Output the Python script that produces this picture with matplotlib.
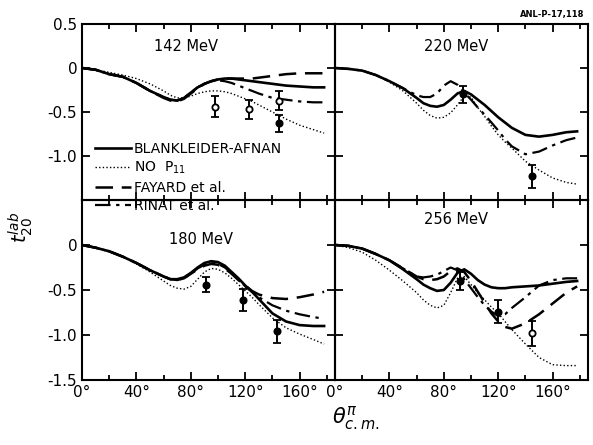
# t20 lab vs theta c.m. - four panels (142, 180, 220, 256 MeV).

import matplotlib
matplotlib.use('Agg')
import matplotlib.pyplot as plt
from matplotlib.ticker import MultipleLocator

ang = [0, 10, 20, 30, 40, 50, 60, 65, 70, 75, 80, 85, 90, 95, 100, 105, 110, 115,
       120, 125, 130, 140, 150, 160, 170, 178]

# 142 MeV
ba_142 = [0, -0.02, -0.07, -0.10, -0.17, -0.26, -0.33, -0.36, -0.37, -0.34, -0.28, -0.22, -0.18,
          -0.15, -0.13, -0.12, -0.12, -0.13, -0.14, -0.15, -0.16, -0.18, -0.20, -0.21, -0.22, -0.22]
nop_142 = [0, -0.02, -0.05, -0.08, -0.12, -0.18, -0.26, -0.31, -0.34, -0.34, -0.32, -0.29, -0.27,
           -0.26, -0.26, -0.27, -0.29, -0.32, -0.35, -0.38, -0.42, -0.50, -0.58, -0.65, -0.70, -0.74]
fay_142 = [0, -0.02, -0.07, -0.10, -0.17, -0.26, -0.34, -0.37, -0.38, -0.35, -0.29, -0.23, -0.18,
           -0.15, -0.13, -0.12, -0.12, -0.12, -0.12, -0.12, -0.11, -0.09, -0.07, -0.06, -0.06, -0.06]
rin_142 = [0, -0.02, -0.07, -0.10, -0.17, -0.26, -0.33, -0.36, -0.37, -0.34, -0.28, -0.22, -0.18,
           -0.15, -0.14, -0.15, -0.17, -0.20, -0.23, -0.26, -0.29, -0.34, -0.36, -0.38, -0.39, -0.39]

# 220 MeV
ba_220 = [0, -0.01, -0.03, -0.08, -0.15, -0.23, -0.34, -0.40, -0.43, -0.44, -0.42, -0.36, -0.29,
          -0.26, -0.30, -0.36, -0.42, -0.49, -0.56, -0.62, -0.68, -0.76, -0.78, -0.76, -0.73, -0.72]
nop_220 = [0, -0.01, -0.03, -0.08, -0.16, -0.26, -0.40, -0.48, -0.54, -0.57, -0.56, -0.51, -0.42,
           -0.32, -0.33, -0.45, -0.55, -0.66, -0.76, -0.84, -0.91, -1.06, -1.16, -1.25, -1.30, -1.32]
rin_220 = [0, -0.01, -0.03, -0.08, -0.15, -0.23, -0.31, -0.33, -0.33, -0.29, -0.20, -0.15, -0.19,
           -0.28, -0.36, -0.45, -0.53, -0.62, -0.71, -0.81, -0.89, -0.98, -0.95, -0.88, -0.82, -0.79]

# 180 MeV
ba_180 = [0, -0.03, -0.07, -0.13, -0.20, -0.28, -0.35, -0.38, -0.38, -0.36, -0.31, -0.25, -0.20,
          -0.18, -0.19, -0.23, -0.30, -0.37, -0.45, -0.52, -0.60, -0.76, -0.85, -0.89, -0.90, -0.90]
nop_180 = [0, -0.03, -0.07, -0.13, -0.21, -0.30, -0.40, -0.45, -0.48, -0.49, -0.46, -0.38, -0.30,
           -0.26, -0.27, -0.31, -0.37, -0.44, -0.51, -0.58, -0.66, -0.81, -0.92, -0.99, -1.05, -1.10]
fay_180 = [0, -0.03, -0.07, -0.13, -0.20, -0.28, -0.35, -0.38, -0.39, -0.37, -0.32, -0.27, -0.23,
           -0.21, -0.22, -0.26, -0.32, -0.39, -0.45, -0.51, -0.55, -0.59, -0.60, -0.58, -0.55, -0.52]
rin_180 = [0, -0.03, -0.07, -0.13, -0.20, -0.28, -0.35, -0.38, -0.39, -0.37, -0.32, -0.26, -0.22,
           -0.20, -0.21, -0.25, -0.31, -0.38, -0.46, -0.52, -0.58, -0.67, -0.73, -0.77, -0.80, -0.82]

# 256 MeV
ba_256 = [0, -0.01, -0.04, -0.10, -0.17, -0.27, -0.38, -0.44, -0.48, -0.51, -0.50, -0.42, -0.31,
          -0.27, -0.32, -0.39, -0.44, -0.47, -0.48, -0.48, -0.47, -0.46, -0.45, -0.43, -0.41, -0.40]
nop_256 = [0, -0.03, -0.08, -0.17, -0.28, -0.40, -0.53, -0.61, -0.67, -0.70, -0.67, -0.53, -0.37,
           -0.35, -0.44, -0.53, -0.61, -0.69, -0.76, -0.85, -0.94, -1.10, -1.25, -1.33, -1.34, -1.34]
fay_256 = [0, -0.01, -0.04, -0.10, -0.17, -0.26, -0.35, -0.38, -0.39, -0.38, -0.35, -0.29, -0.26,
           -0.30, -0.40, -0.52, -0.64, -0.76, -0.85, -0.91, -0.93, -0.87, -0.77, -0.65, -0.53, -0.46]
rin_256 = [0, -0.01, -0.04, -0.10, -0.17, -0.26, -0.35, -0.36, -0.35, -0.33, -0.29, -0.25, -0.28,
           -0.38, -0.48, -0.58, -0.67, -0.74, -0.79, -0.77, -0.70, -0.58, -0.45, -0.39, -0.37, -0.37]

# Measured points: angle, value, error, open symbol or not.
pts_142_x = [98, 122.6, 144.6, 144.6]
pts_142_y = [-0.44, -0.47, -0.37, -0.63]
pts_142_err = [0.12, 0.11, 0.11, 0.10]
pts_142_open = [True, True, True, False]

pts_220_x = [94, 145]
pts_220_y = [-0.30, -1.23]
pts_220_err = [0.10, 0.13]
pts_220_open = [False, False]

pts_180_x = [91, 118, 143]
pts_180_y = [-0.44, -0.61, -0.96]
pts_180_err = [0.08, 0.12, 0.13]
pts_180_open = [False, False, False]

pts_256_x = [92, 120, 145]
pts_256_y = [-0.40, -0.74, -0.98]
pts_256_err = [0.10, 0.13, 0.14]
pts_256_open = [False, False, True]

legend_labels = ['BLANKLEIDER-AFNAN', 'NO  P$_{11}$', 'FAYARD et al.', 'RINAT et al.']
x_ticks = [0, 40, 80, 120, 160]
x_tick_labels = ['0°', '40°', '80°', '120°', '160°']

# Figure, 593 x 445 pixels.
fig = plt.figure(figsize=(5.93, 4.45), dpi=100)

W, H = 593.0, 445.0
def axes_px(x0, y0, w, h):
    return fig.add_axes([x0 / W, 1 - (y0 + h) / H, w / W, h / H])

ax_142 = axes_px(82, 24, 253, 176)
ax_220 = axes_px(335, 24, 253, 176)
ax_180 = axes_px(82, 200, 253, 180)
ax_256 = axes_px(335, 200, 253, 180)

# Upper left panel on top so its legend can run over the boundary.
ax_142.set_zorder(5)
for ax in (ax_142, ax_220, ax_180, ax_256):
    ax.patch.set_visible(False)

solid = dict(color='black', lw=1.9, ls='-')
dotted = dict(color='black', lw=1.0, ls=(0, (1, 1.6)))
dashed = dict(color='black', lw=1.8, ls=(0, (7, 3.5)))
dashdot = dict(color='black', lw=1.6, ls=(0, (7, 2.5, 1.5, 2.5)))

def draw_points(ax, xs, ys, errs, opens):
    for x, y, e, o in zip(xs, ys, errs, opens):
        ax.errorbar(x, y, yerr=e, fmt='o', color='black', ms=4.5, capsize=3,
                    elinewidth=1.4, capthick=1.4,
                    mfc='white' if o else 'black', mew=1.3)

panels = [
    (ax_142, ba_142, nop_142, fay_142, rin_142, pts_142_x, pts_142_y, pts_142_err, pts_142_open, '142 MeV', 0.41, 0.87),
    (ax_220, ba_220, nop_220, None, rin_220, pts_220_x, pts_220_y, pts_220_err, pts_220_open, '220 MeV', 0.48, 0.87),
    (ax_180, ba_180, nop_180, fay_180, rin_180, pts_180_x, pts_180_y, pts_180_err, pts_180_open, '180 MeV', 0.47, 0.78),
    (ax_256, ba_256, nop_256, fay_256, rin_256, pts_256_x, pts_256_y, pts_256_err, pts_256_open, '256 MeV', 0.48, 0.89),
]

for ax, ba, nop, fay, rin, px, py, pe, po, name, tx, ty in panels:
    ax.plot(ang, ba, label=legend_labels[0], **solid)
    ax.plot(ang, nop, label=legend_labels[1], **dotted)
    if fay is not None:
        ax.plot(ang, fay, label=legend_labels[2], **dashed)
    ax.plot(ang, rin, label=legend_labels[3], **dashdot)
    draw_points(ax, px, py, pe, po)

    ax.text(tx, ty, name, transform=ax.transAxes, ha='center', va='center', fontsize=10.5)

    ax.set_xlim(0, 186)
    ax.set_ylim(-1.5, 0.5)
    ax.xaxis.set_major_locator(MultipleLocator(40))
    ax.xaxis.set_minor_locator(MultipleLocator(20))
    ax.set_yticks([0.5, 0, -0.5, -1.0, -1.5])
    ax.tick_params(which='both', direction='in', top=True, right=True, width=1.3, labelsize=11)
    ax.tick_params(which='major', length=6)
    ax.tick_params(which='minor', length=3.5)
    for s in ax.spines.values():
        s.set_linewidth(1.5)

# Tick labels only on the outer sides.
ax_142.set_yticklabels(['0.5', '0', '-0.5', '-1.0', ''])
ax_180.set_yticklabels(['', '0', '-0.5', '-1.0', '-1.5'])
ax_220.set_yticklabels([])
ax_256.set_yticklabels([])
ax_142.set_xticklabels([])
ax_220.set_xticklabels([])
for ax in (ax_180, ax_256):
    ax.set_xticks(x_ticks)
    ax.set_xticklabels(x_tick_labels)

# Legend in the upper left panel.
leg = ax_142.legend(loc='upper left', bbox_to_anchor=(0.05, 0.33), frameon=False, fontsize=10,
                    handlelength=2.6, handletextpad=0.2, labelspacing=0.3, borderpad=0,
                    borderaxespad=0)
leg.set_zorder(10)

# Axis titles.
fig.text(0.035, 0.49, '$t_{20}^{lab}$', rotation=90, ha='center', va='center', fontsize=14)
fig.text(0.60, 0.06, r'$\theta^{\pi}_{c.m.}$', ha='center', va='center', fontsize=15)
fig.text(0.985, 0.968, 'ANL-P-17,118', ha='right', va='center', fontsize=6, fontweight='bold')

plt.savefig('out.png', dpi=100, facecolor='white')
